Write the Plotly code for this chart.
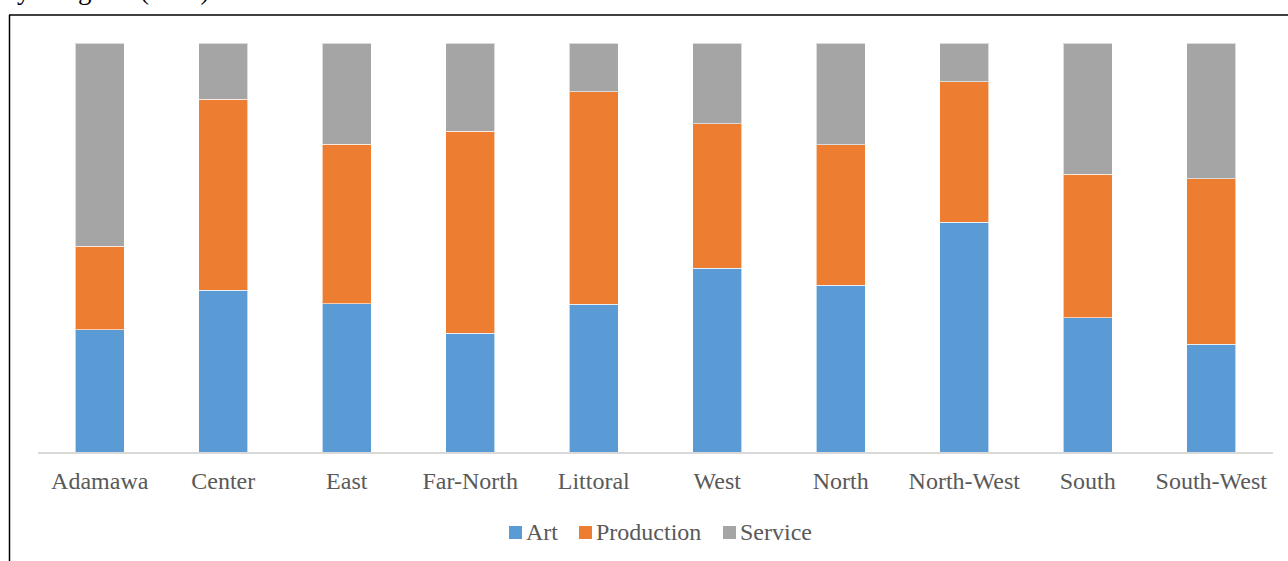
import plotly.graph_objects as go

# Share of businesses by sector in each region (in %)
regions = ["Adamawa", "Center", "East", "Far-North", "Littoral",
           "West", "North", "North-West", "South", "South-West"]
art = [29.9, 39.5, 36.2, 29.0, 36.1, 44.9, 40.8, 56.2, 32.8, 26.4]
production = [20.4, 46.7, 39.0, 49.4, 52.0, 35.4, 34.3, 34.3, 35.1, 40.4]
service = [49.7, 13.8, 24.8, 21.6, 11.9, 19.7, 24.9, 9.5, 32.1, 33.2]

series = [("Art", art, "#5b9bd5"),
          ("Production", production, "#ed7d31"),
          ("Service", service, "#a5a5a5")]

FONT = "Liberation Serif"

fig = go.Figure()
for name, vals, color in series:
    fig.add_trace(go.Bar(
        x=regions, y=vals, name=name, showlegend=False,
        marker=dict(color=color, line=dict(color="rgba(255,255,255,0.6)", width=1)),
    ))

W, H = 1288, 561
L, R, T, B = 38, 15, 43, 109
pw, ph = W - L - R, H - T - B


def px_x(x):
    return (x - L) / pw


def px_y(y):
    return (H - B - y) / ph


shapes = [
    # frame around the chart (left and top edges)
    dict(type="line", xref="paper", yref="paper",
         x0=px_x(9.5), x1=px_x(9.5), y0=px_y(15), y1=px_y(H + 5),
         line=dict(color="black", width=1.5)),
    dict(type="line", xref="paper", yref="paper",
         x0=px_x(9), x1=px_x(W + 5), y0=px_y(15), y1=px_y(15),
         line=dict(color="black", width=1.5)),
]

# caption line above the frame, mostly cut off at the page edge
caption_words = [("y", 15), ("region", 55), ("(in", 138), ("%)", 176)]
annotations = [
    dict(text=w, x=px_x(xp), y=px_y(7), xref="paper", yref="paper",
         xanchor="left", yanchor="bottom", showarrow=False,
         font=dict(family=FONT, size=27, color="black"))
    for w, xp in caption_words
]

# legend below the axis: colour square followed by the series name
legend_pos = [509, 579, 723]
for (name, _, color), x0 in zip(series, legend_pos):
    shapes.append(dict(type="rect", xref="paper", yref="paper",
                       x0=px_x(x0), x1=px_x(x0 + 13),
                       y0=px_y(539), y1=px_y(526),
                       fillcolor=color, line=dict(width=0)))
    annotations.append(dict(text=name, x=px_x(x0 + 15), y=px_y(532),
                            xref="paper", yref="paper",
                            xanchor="left", yanchor="middle", showarrow=False,
                            font=dict(family=FONT, size=24, color="#595959")))

fig.update_layout(
    width=W, height=H,
    margin=dict(l=L, r=R, t=T, b=B, autoexpand=False),
    barmode="stack",
    bargap=0.6,
    plot_bgcolor="white",
    paper_bgcolor="white",
    font=dict(family=FONT, size=24, color="#595959"),
    showlegend=False,
    xaxis=dict(showline=True, linecolor="#d9d9d9", linewidth=1.5,
               showgrid=False, ticks="", ticklabelstandoff=6,
               tickfont=dict(family=FONT, size=24, color="#595959")),
    yaxis=dict(range=[0, 100], visible=False, showgrid=False),
    shapes=shapes,
    annotations=annotations,
)

fig.write_html("out.html")
